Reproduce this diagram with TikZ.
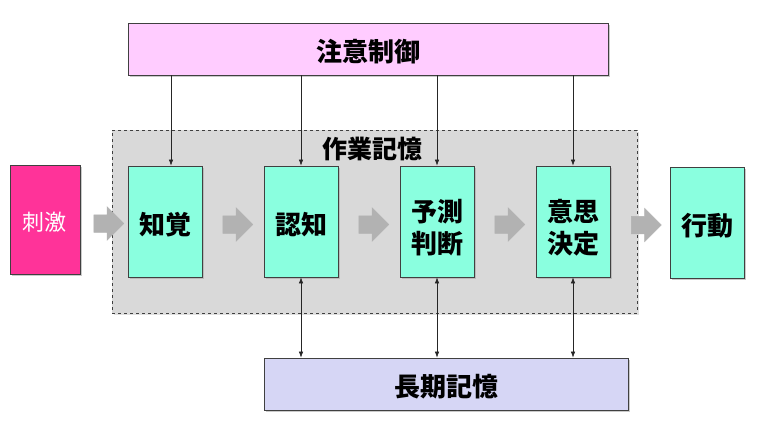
\documentclass[tikz,border=0pt]{standalone}
\usepackage{fontspec}
\newfontfamily\jp{Noto Sans CJK JP}
\usetikzlibrary{shapes.arrows,shadows,arrows.meta,calc}
\definecolor{pinkbox}{HTML}{FFCCFF}
\definecolor{stimcol}{HTML}{FF3399}
\definecolor{aqua}{HTML}{8AFFDF}
\definecolor{wmgray}{HTML}{D9D9D9}
\definecolor{lav}{HTML}{D6D6F5}
\definecolor{edge}{HTML}{404040}
\tikzset{
  box/.style={draw=edge, line width=0.8pt, inner sep=0pt,
    drop shadow={shadow xshift=2pt, shadow yshift=-2pt, fill=black!35, opacity=0.6}},
  txt/.style={inner sep=0pt, align=center, font=\jp\bfseries\fontsize{26}{32}\selectfont},
  proc/.style={box, fill=aqua, minimum width=74pt, minimum height=111pt},
  blockarrow/.style={single arrow, fill=black!30, draw=black!30, line width=0.5pt,
    minimum height=30pt, minimum width=33pt, inner sep=8.5pt,
    single arrow head extend=8pt, anchor=center},
  link/.style={draw=black!85, line width=0.6pt},
  tip/.style={-{Latex[length=6pt,width=4.5pt]}},
  tips/.style={{Latex[length=6pt,width=4.5pt]}-{Latex[length=6pt,width=4.5pt]}}
}
\begin{document}
\begin{tikzpicture}[x=1pt,y=-1pt]
\useasboundingbox (0,0) rectangle (768,428);
% working memory area
\node[draw=edge, dashed, line width=0.8pt, fill=wmgray, minimum width=525pt, minimum height=183pt,
  drop shadow={shadow xshift=2pt, shadow yshift=-2pt, fill=black!25, opacity=0.5}] (wm) at (374.5,221.5) {};
\node[txt, font=\jp\bfseries\fontsize{25}{30}\selectfont] (wml) at (372.5,148.5) {作業記憶};
% top
\node[box, fill=pinkbox, minimum width=480pt, minimum height=52pt,
  label={[txt, yshift=-2.5pt]center:注意制御}] (attn) at (368,49) {};
% boxes
\node[box, fill=stimcol, minimum width=70pt, minimum height=109pt,
  label={[txt, text=white, font=\jp\fontsize{22}{26}\selectfont, yshift=-3pt]center:刺激}] (stim) at (45,219.5) {};
\node[proc, label={[txt, yshift=-3.5pt]center:知覚}] (perc) at (165,221.5) {};
\node[proc, label={[txt, yshift=-3.5pt]center:認知}] (cog) at (301,221.5) {};
\node[proc, label={[txt, yshift=-6.5pt]center:予測\\判断}] (pred) at (437,221.5) {};
\node[proc, label={[txt, yshift=-6.5pt]center:意思\\決定}] (dec) at (573,221.5) {};
\node[proc, label={[txt, yshift=-3pt]center:行動}] (act) at (707,222.5) {};
\node[box, fill=lav, minimum width=364pt, minimum height=52pt,
  label={[txt, yshift=-2.5pt]center:長期記憶}] (ltm) at (446,384) {};
% block arrows
\node[blockarrow] (a1) at ($(stim.east)!0.5!(perc.west)+(0.5,3)$) {};
\node[blockarrow] (a2) at ($(perc.east)!0.5!(cog.west)+(0.5,3)$) {};
\node[blockarrow] (a3) at ($(cog.east)!0.5!(pred.west)+(0.5,3)$) {};
\node[blockarrow] (a4) at ($(pred.east)!0.5!(dec.west)+(0.5,3)$) {};
\node[blockarrow] (a5) at ($(dec.east)!0.5!(act.west)+(2,3)$) {};
% attention control arrows
\draw[link,tip] ([xshift=6pt]perc.north |- attn.south) -- ([xshift=6pt]perc.north);
\draw[link,tip] (cog.north |- attn.south) -- (cog.north);
\draw[link,tip] (pred.north |- attn.south) -- (pred.north);
\draw[link,tip] (dec.north |- attn.south) -- (dec.north);
% long-term memory arrows
\draw[link,tips] (cog.south) -- (cog.south |- ltm.north);
\draw[link,tips] (pred.south) -- (pred.south |- ltm.north);
\draw[link,tips] (dec.south) -- (dec.south |- ltm.north);
\end{tikzpicture}
\end{document}
